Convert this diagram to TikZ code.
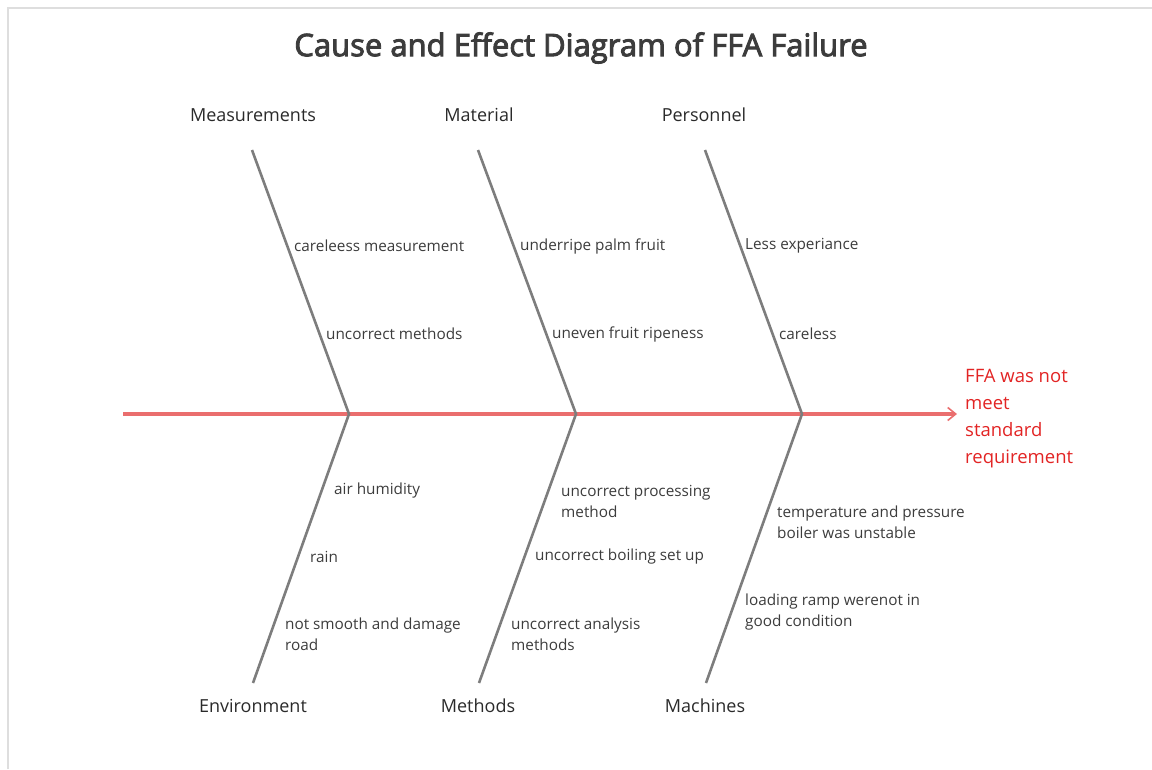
\documentclass[tikz,border=0pt]{standalone}
\usepackage{fontspec}
\setmainfont{Open Sans}
\newfontfamily\titlefont{Open Sans}[FakeBold=3]
\usetikzlibrary{arrows.meta}
\definecolor{spinecol}{RGB}{234,110,110}
\definecolor{bonecol}{RGB}{125,125,125}
\definecolor{effectcol}{RGB}{226,36,36}
\definecolor{txtcol}{RGB}{60,60,60}
\definecolor{framecol}{RGB}{222,222,222}
\begin{document}
\begin{tikzpicture}[x=1pt,y=-1pt,
  cat/.style={font=\fontsize{18}{21}\selectfont, text=txtcol!70!black, inner sep=0pt},
  cause/.style={font=\fontsize{15.3}{21}\selectfont, text=txtcol, anchor=west, align=left, inner sep=0pt},
  bone/.style={draw=bonecol, line width=2.6pt},
  spine/.style={draw=spinecol, line width=3.2pt, -{Straight Barb[length=8pt,width=13pt,line width=1.6pt]}},
  effect/.style={font=\fontsize{18.5}{27}\selectfont, text=effectcol, anchor=west, align=left, inner sep=0pt}]
\useasboundingbox (0,0) rectangle (1152,769);
\draw[framecol, line width=1.5pt] (8,769) -- (8,8) -- (1152,8);

% title
\node[font=\titlefont\fontsize{31}{36}\selectfont, text=txtcol] (title) at (581,48) {Cause and Effect Diagram of FFA Failure};

% spine joints and bone ends
\coordinate (tail) at (123,414);
\coordinate (head) at (957,414);
\coordinate (j1) at (349,414);
\coordinate (j2) at (576,414);
\coordinate (j3) at (802,414);
\coordinate (t1) at (252,150);
\coordinate (t2) at (478,150);
\coordinate (t3) at (705,150);
\coordinate (b1) at (253,683);
\coordinate (b2) at (479,683);
\coordinate (b3) at (706,683);

\draw[spine] (tail) -- (head);
\draw[bone, line join=miter] (t1) -- (j1) -- (b1);
\draw[bone, line join=miter] (t2) -- (j2) -- (b2);
\draw[bone, line join=miter] (t3) -- (j3) -- (b3);

% categories
\node[cat] (meas) at (253,115) {Measurements};
\node[cat] (mat) at (479,115) {Material};
\node[cat] (pers) at (704,115) {Personnel};
\node[cat] (env) at (253,706) {Environment};
\node[cat] (meth) at (478,706) {Methods};
\node[cat] (mach) at (705,706) {Machines};

% effect
\node[effect] (eff) at (965,419) {FFA was not\\meet\\standard\\requirement};

% causes, upper bones
\node[cause] (c1) at (294,246) {careleess measurement};
\node[cause] (c2) at (326,334) {uncorrect methods};
\node[cause] (c3) at (520,246) {underripe palm fruit};
\node[cause] (c4) at (552,334) {uneven fruit ripeness};
\node[cause] (c5) at (745,246) {Less experiance};
\node[cause] (c6) at (779,334) {careless};

% causes, lower bones
\node[cause] (c7) at (334,491) {air humidity};
\node[cause] (c8) at (310,557) {rain};
\node[cause] (c9) at (285,634) {not smooth and damage\\road};
\node[cause] (c10) at (561,501) {uncorrect processing\\method};
\node[cause] (c11) at (535,557) {uncorrect boiling set up};
\node[cause] (c12) at (511,634) {uncorrect analysis\\methods};
\node[cause] (c13) at (777,522) {temperature and pressure\\boiler was unstable};
\node[cause] (c14) at (745,612) {loading ramp werenot in\\good condition};
\end{tikzpicture}
\end{document}
